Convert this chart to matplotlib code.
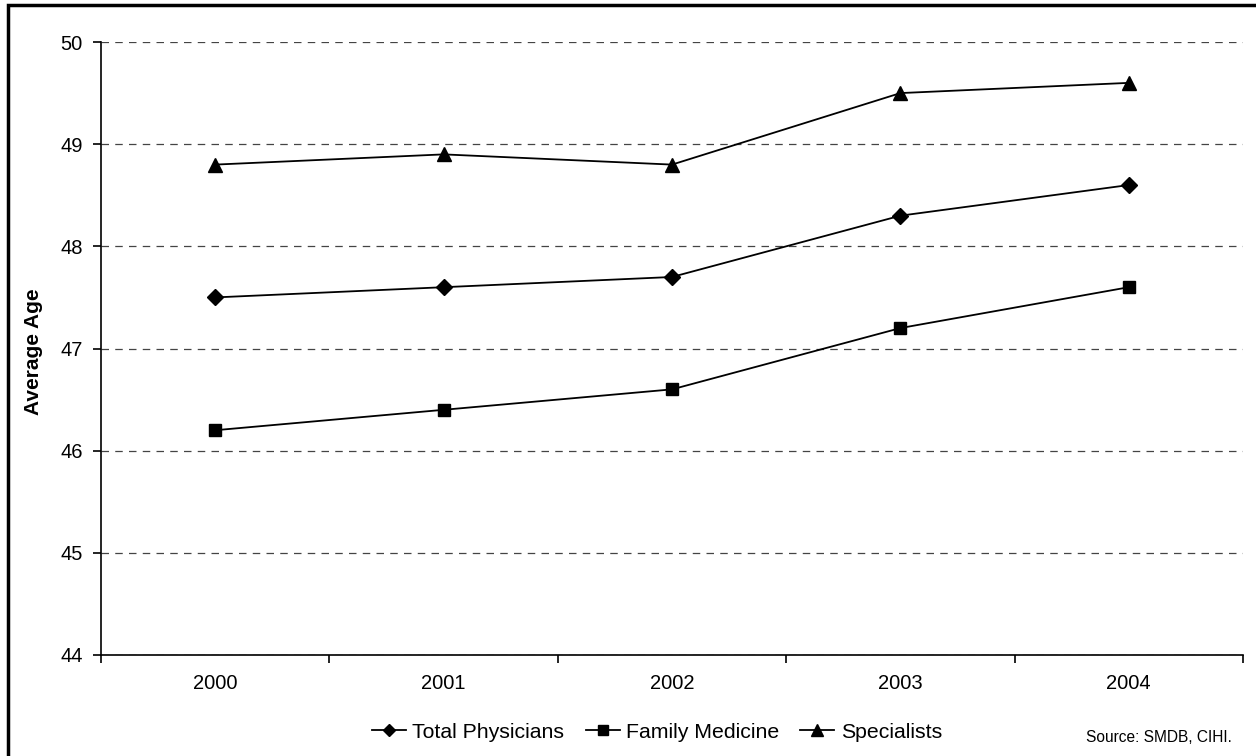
import matplotlib.pyplot as plt
from matplotlib.patches import Rectangle

plt.rcParams['font.family'] = ['Liberation Sans', 'DejaVu Sans']

years = ['2000', '2001', '2002', '2003', '2004']
total = [47.5, 47.6, 47.7, 48.3, 48.6]
family = [46.2, 46.4, 46.6, 47.2, 47.6]
specialists = [48.8, 48.9, 48.8, 49.5, 49.6]

fig = plt.figure(figsize=(12.56, 7.56), dpi=100)
ax = fig.add_axes([101 / 1256, 1 - 655 / 756, 1142 / 1256, 613 / 756])

x = range(len(years))
ax.plot(x, total, color='black', lw=1.3, marker='D', ms=8, label='Total Physicians')
ax.plot(x, family, color='black', lw=1.3, marker='s', ms=8.5, label='Family Medicine')
ax.plot(x, specialists, color='black', lw=1.3, marker='^', ms=10, label='Specialists')

ax.set_xlim(-0.5, 4.5)
ax.set_ylim(44, 50)
ax.set_yticks(range(44, 51))
# category boundaries carry the tick marks, labels sit in the middle
ax.set_xticks([i + 0.5 for i in range(-1, 5)])
ax.set_xticklabels([])
ax.set_xticks(list(x), minor=True)
ax.set_xticklabels(years, minor=True)
ax.tick_params(axis='x', which='minor', length=0, pad=14, labelsize=14.5)
ax.tick_params(axis='x', which='major', direction='out', length=6, width=1.2)
ax.tick_params(axis='y', direction='out', length=6, width=1.2, labelsize=14.5, pad=7)

for s in ['top', 'right']:
    ax.spines[s].set_visible(False)
for s in ['left', 'bottom']:
    ax.spines[s].set_linewidth(1.2)

ax.yaxis.grid(True, linestyle=(0, (6, 5)), color='#444444', lw=0.9)
ax.set_axisbelow(True)
ax.set_ylabel('Average Age', fontsize=15, fontweight='bold')
ax.yaxis.set_label_coords(-0.051, 0.495)

fig.legend(loc='center', bbox_to_anchor=(657 / 1256, 1 - 732 / 756), ncol=3,
           frameon=False, fontsize=15.3, handlelength=1.6, handletextpad=0.3,
           columnspacing=1.0, borderpad=0, markerscale=0.8)

fig.text(1232 / 1256, 1 - 737 / 756, 'Source: SMDB, CIHI.', ha='right', va='center',
         fontsize=11.2)

fig.patches.append(Rectangle((8 / 1256, -0.1), 1.2, 1 - 5 / 756 + 0.1,
                             transform=fig.transFigure, fill=False,
                             edgecolor='black', lw=2.5))

fig.savefig('out.png', dpi=100)
